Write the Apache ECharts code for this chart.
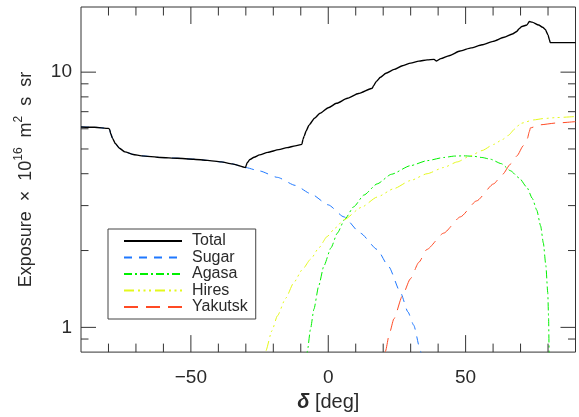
<!DOCTYPE html>
<html>
<head>
<meta charset="utf-8">
<script src="https://cdn.jsdelivr.net/npm/echarts@6/dist/echarts.min.js"></script>
<style>
html,body{margin:0;padding:0;background:#fff;}
#chart{width:579px;height:417px;}
</style>
</head>
<body>
<div id="chart"></div>
<script>
// ---- data (declination in deg, exposure in 1e16 m^2 s sr) ----
const total = [[-90,6.1],[-85,6.08],[-80,6.02],[-79.6,5.98],[-79.2,5.75],[-78.5,5.5],[-77.5,5.25],[-76,5.03],[-74,4.87],[-71,4.76],[-68,4.70],[-61,4.63],[-55,4.60],[-49,4.56],[-44,4.51],[-39,4.45],[-35,4.37],[-30.1,4.23],
  [-29.9,4.3],[-29.5,4.42],[-28.5,4.55],[-27,4.64],[-25,4.74],[-22,4.85],[-18,4.97],[-15,5.06],[-12,5.14],[-9.6,5.21],
  [-9.2,5.45],[-8.8,5.6],[-8,5.9],[-7,6.2],[-5,6.6],[-3,6.9],[0,7.25],[3,7.55],[7,7.9],[11,8.25],[16,8.65],
  [16.5,8.85],[17.5,9.2],[19,9.55],[21,9.9],[24,10.25],[27,10.6],[30,10.85],[33,11.05],[36,11.17],[38.5,11.22],[39.4,11.06],
  [41,11.3],[44,11.6],[48,12.1],[52,12.45],[56,12.8],[60,13.2],[64,13.7],[67,14.1],[68.5,14.4],[69.5,14.8],[70.5,15.1],[72.3,15.3],[73.2,15.8],[74.2,15.7],[76.6,15.3],[78,15.0],[79,14.7],[80,14.0],[80.5,13.4],[80.8,13.05],[85,13.05],[90,13.05]];
const sugar = [[-90,6.1],[-85,6.08],[-80,6.02],[-79.6,5.98],[-79.2,5.75],[-78.5,5.5],[-77.5,5.25],[-76,5.03],[-74,4.87],[-71,4.76],[-68,4.70],[-61,4.63],[-55,4.60],[-49,4.56],[-44,4.51],[-39,4.45],[-35,4.37],[-30.1,4.23],
  [-25,4.1],[-18.5,3.87],[-12,3.6],[-6.4,3.34],[0,3.02],[5.7,2.71],[11.7,2.34],[17.8,2.02],[22,1.73],[26.3,1.37],[29,1.15],[31.1,1.02],[33.6,0.805],[36,0.55],[38,0.25],[39,0.05]];
const agasa = [[-9.5,0.1],[-8.8,0.4],[-8.2,0.65],[-7.6,0.805],[-6.5,0.98],[-5.2,1.18],[-3.5,1.45],[-1.6,1.74],[1,2.05],[3.3,2.34],[6,2.65],[9.3,2.97],[13,3.3],[17.8,3.65],[23,3.98],[29.9,4.30],[36,4.5],[42,4.63],[46,4.69],[49.3,4.70],[53,4.68],[56,4.63],[59,4.56],[63,4.38],[66.3,4.11],[69.5,3.85],[72.3,3.54],[74.3,3.2],[75.9,2.88],[77.3,2.5],[78.3,2.14],[79.2,1.75],[79.9,1.37],[80.2,1.1],[80.4,0.805],[80.6,0.3],[80.7,0.05]];
const hires = [[-30,0.05],[-28,0.25],[-26,0.45],[-24,0.67],[-22.8,0.805],[-20.5,0.97],[-18.5,1.11],[-15.5,1.3],[-12.5,1.50],[-9.5,1.68],[-6.4,1.85],[-3.4,2.05],[-0.4,2.27],[2.5,2.45],[5.7,2.64],[12,2.95],[17.8,3.24],[24,3.5],[29.9,3.76],[36,4.0],[42,4.23],[47,4.45],[51.7,4.70],[56,4.93],[60.2,5.21],[63.5,5.45],[65.5,5.65],[68,6.0],[70,6.3],[74.8,6.5],[78.4,6.58],[83.2,6.64],[90,6.70]];
const yakutsk = [[16.3,0.05],[17.5,0.3],[19,0.55],[20.8,0.805],[22.3,0.95],[23.9,1.08],[27,1.33],[29.9,1.55],[33,1.8],[35.9,2.02],[42,2.34],[48.1,2.71],[54,3.13],[60.2,3.65],[63.5,3.98],[66.3,4.36],[68.7,4.7],[71,5.15],[72.5,5.5],[73.2,5.85],[73.6,6.05],[77.2,6.22],[83,6.32],[90,6.4]];

const seriesNames = ['Total','Sugar','Agasa','Hires','Yakutsk'];
const xLabelValues = [-50, 0, 50];
const xTickValues = [-80,-70,-60,-50,-40,-30,-20,-10,0,10,20,30,40,50,60,70,80];
const yLabelValues = [1, 10];
const yTickValues = [0.9,1,2,3,4,5,6,7,8,9,10];

const X_MIN = -90, X_MAX = 90, Y_MIN = 0.8, Y_MAX = 18;
const AX = '#333';
const TXT = '#2a2a2a';

const chart = echarts.init(document.getElementById('chart'), null, {renderer:'canvas'});

function tickRender(isX){
  return function(params, api){
    const v = isX ? api.value(0) : api.value(1);
    const major = api.value(2) === 1;
    const children = [];
    if (isX){
      const len = major ? 17 : 8.5;
      const b = api.coord([v, Y_MIN]), t = api.coord([v, Y_MAX]);
      children.push({type:'line', shape:{x1:b[0],y1:b[1],x2:b[0],y2:b[1]-len}, style:{stroke:AX,lineWidth:1}});
      children.push({type:'line', shape:{x1:t[0],y1:t[1],x2:t[0],y2:t[1]+len}, style:{stroke:AX,lineWidth:1}});
    } else {
      const len = major ? 15 : 7.5;
      const l = api.coord([X_MIN, v]), r = api.coord([X_MAX, v]);
      children.push({type:'line', shape:{x1:l[0],y1:l[1],x2:l[0]+len,y2:l[1]}, style:{stroke:AX,lineWidth:1}});
      children.push({type:'line', shape:{x1:r[0],y1:r[1],x2:r[0]-len,y2:r[1]}, style:{stroke:AX,lineWidth:1}});
    }
    return {type:'group', children};
  };
}

function lineSeries(name, data, color, width, dash, z){
  return {name, type:'line', data, symbol:'none', showSymbol:false, smooth:0.2, smoothMonotone:'x',
    clip:true, z, lineStyle:{color, width, type:dash}, itemStyle:{color}, emphasis:{disabled:true}};
}

const option = {
  animation:false,
  backgroundColor:'#fff',
  textStyle:{fontFamily:'Liberation Sans'},
  grid:{left:81, right:3.5, top:7, bottom:59.5, show:true, borderColor:AX, borderWidth:1, backgroundColor:'transparent'},
  legend:{
    data:seriesNames, orient:'vertical', left:108, top:229,
    padding:[4,8,4,15], itemGap:0.5, itemWidth:58, itemHeight:14,
    borderColor:'#444', borderWidth:1, backgroundColor:'#fff',
    itemStyle:{opacity:0},
    textStyle:{fontSize:16, color:TXT, fontFamily:'Liberation Sans', lineHeight:15, padding:[0,0,0,5]},
    selectedMode:false
  },
  xAxis:{
    type:'value', min:X_MIN, max:X_MAX,
    axisLine:{show:false}, axisTick:{show:false}, splitLine:{show:false},
    axisLabel:{customValues:xLabelValues, fontSize:19, color:TXT, margin:16,
      formatter:v => (v < 0 ? '\u2212' : '') + Math.abs(v)},
    name:'{d|δ} [deg]', nameLocation:'middle', nameGap:35,
    nameTextStyle:{fontSize:20, color:TXT, rich:{d:{fontSize:20, fontStyle:'italic', fontWeight:'bold', color:TXT}}}
  },
  yAxis:{
    type:'log', logBase:10, min:Y_MIN, max:Y_MAX,
    axisLine:{show:false}, axisTick:{show:false}, splitLine:{show:false}, minorTick:{show:false},
    axisLabel:{fontSize:19, color:TXT, margin:9,
      formatter:v => { const l = Math.log10(v); return Math.abs(l - Math.round(l)) < 1e-6 && yLabelValues.indexOf(Math.round(Math.pow(10, Math.round(l)))) >= 0 ? String(Math.round(v)) : ''; }},
    name:'Exposure  \u00d7  10{s|16}  m{s|2}  s  sr', nameLocation:'middle', nameGap:42, nameRotate:90,
    nameTextStyle:{fontSize:18, color:TXT, lineHeight:26, rich:{s:{fontSize:12, color:TXT, verticalAlign:'top', lineHeight:26, padding:[0,0,8,0]}}}
  },
  series:[
    lineSeries('Sugar', sugar, '#1f78ff', 1, [8,7], 2),
    lineSeries('Agasa', agasa, '#00f000', 1, [8,3,2,3], 2),
    lineSeries('Hires', hires, '#e4f81c', 1, [10,4,2,3.5,2,3.5,2,4], 2),
    lineSeries('Yakutsk', yakutsk, '#ff4a24', 1, [14,8], 2),
    lineSeries('Total', total, '#000000', 1.4, 'solid', 3),
    {type:'custom', name:'xticks', coordinateSystem:'cartesian2d', silent:true, clip:false, z:4,
     encode:{x:0, y:1}, renderItem:tickRender(true),
     data:xTickValues.map(v => [v, Y_MIN, xLabelValues.indexOf(v) >= 0 ? 1 : 0])},
    {type:'custom', name:'yticks', coordinateSystem:'cartesian2d', silent:true, clip:false, z:4,
     encode:{x:0, y:1}, renderItem:tickRender(false),
     data:yTickValues.map(v => [X_MIN, v, yLabelValues.indexOf(v) >= 0 ? 1 : 0])}
  ]
};
chart.setOption(option);
</script>
</body>
</html>
